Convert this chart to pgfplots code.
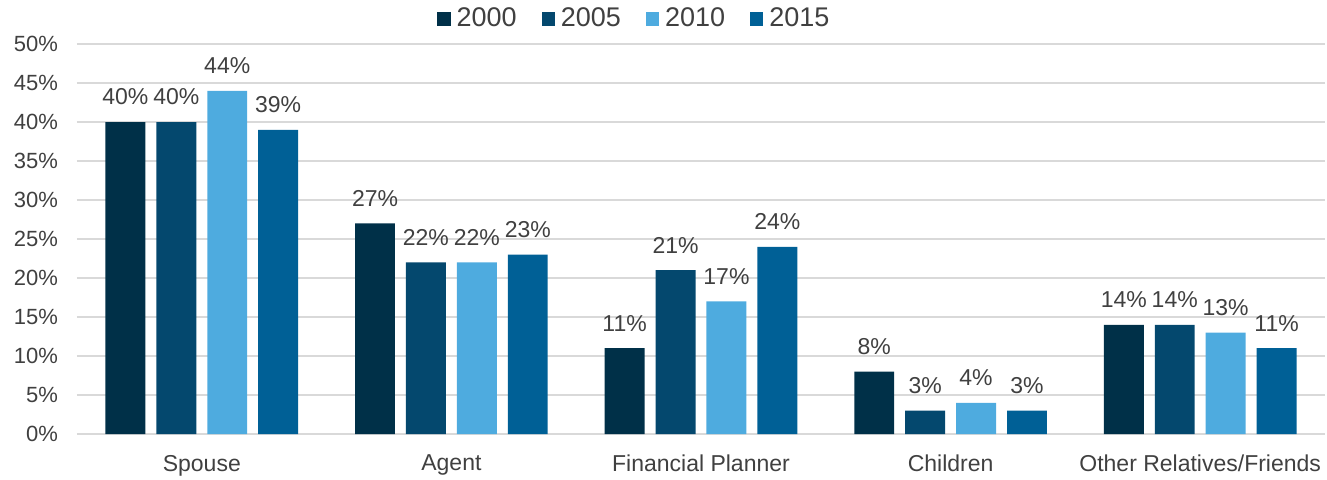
\documentclass[border=0pt]{standalone}
\usepackage{pgfplots}
\pgfplotsset{compat=1.18}
\usepackage{fontspec}
\setmainfont{Liberation Sans}
\definecolor{cA}{RGB}{0,48,72}
\definecolor{cB}{RGB}{4,72,110}
\definecolor{cC}{RGB}{78,171,223}
\definecolor{cD}{RGB}{0,96,150}
\definecolor{txt}{RGB}{64,64,64}
\definecolor{grd}{RGB}{217,217,217}
\begin{document}
\begin{tikzpicture}
\begin{axis}[
  scale only axis, width=624pt, height=195pt,
  xmin=-0.5, xmax=4.5, ymin=0, ymax=50,
  axis line style={draw=none},
  major tick length=0pt,
  ytick={0,5,...,50},
  ymajorgrids, grid style={grd, line width=1pt},
  xtick={0,1,2,3,4},
  xticklabels={Spouse,Agent,Financial Planner,Children,Other Relatives/Friends},
  /pgf/number format/assume math mode=true,
  yticklabel={\pgfmathprintnumber{\tick}\%},
  yticklabel style={font=\fontsize{11}{13}\selectfont, text=txt, xshift=-6pt},
  xticklabel style={font=\fontsize{11.5}{13}\selectfont, text=txt, yshift=-7pt},
  ybar, bar width=0.16,
  nodes near coords={\pgfmathprintnumber{\pgfplotspointmeta}\%},
  every node near coord/.append style={font=\fontsize{11.5}{13}\selectfont, text=txt, yshift=5pt},
  legend style={draw=none, at={(0.4475,1.064)}, anchor=center, font=\fontsize{13.5}{15}\selectfont, text=txt, legend columns=4,
    /tikz/every even column/.append style={column sep=10.5pt}},
  legend image code/.code={\fill[#1] (0pt,-3.3pt) rectangle (6.6pt,3.3pt);},
  clip=false,
]
\addplot[fill=cA, draw=none, bar shift=-0.306] coordinates {(0,40) (1,27) (2,11) (3,8) (4,14)};
\addplot[fill=cB, draw=none, bar shift=-0.102] coordinates {(0,40) (1,22) (2,21) (3,3) (4,14)};
\addplot[fill=cC, draw=none, bar shift=0.102] coordinates {(0,44) (1,22) (2,17) (3,4) (4,13)};
\addplot[fill=cD, draw=none, bar shift=0.306] coordinates {(0,39) (1,23) (2,24) (3,3) (4,11)};
\legend{\hspace{1pt}2000,\hspace{1pt}2005,\hspace{1pt}2010,\hspace{1pt}2015}
\end{axis}
\pgfresetboundingbox
\path[use as bounding box] (-38.5pt,-22.5pt) rectangle (625pt,217pt);
\end{tikzpicture}
\end{document}
